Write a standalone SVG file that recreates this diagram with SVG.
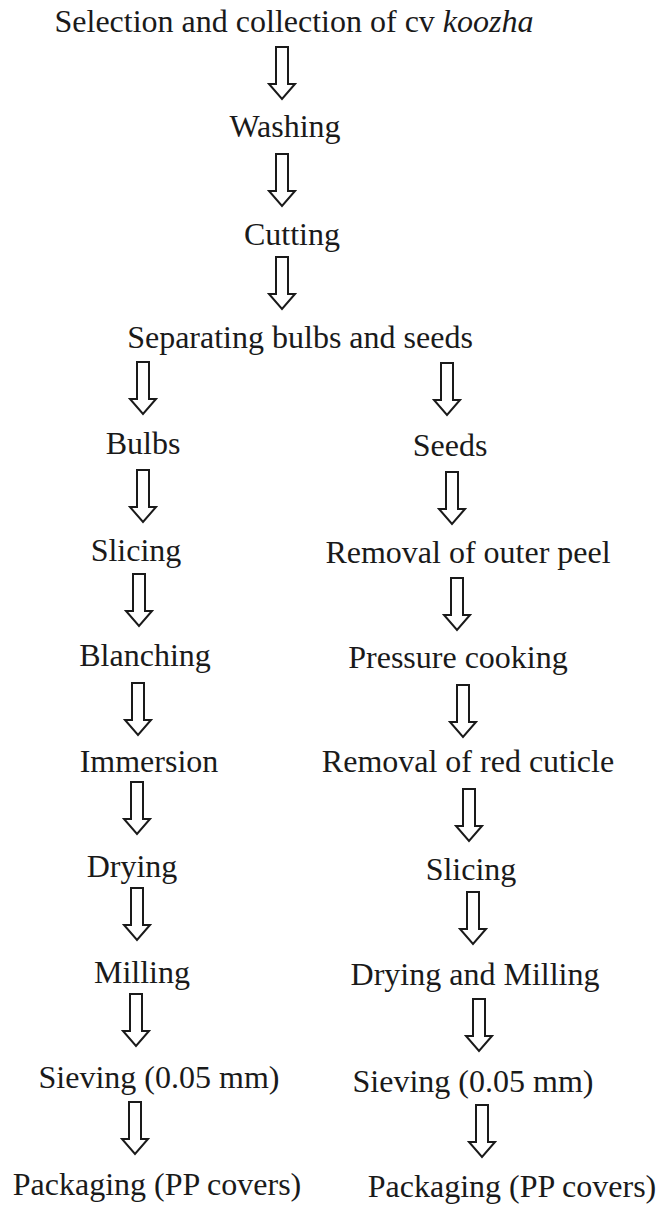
<svg xmlns="http://www.w3.org/2000/svg" width="660" height="1206" viewBox="0 0 660 1206">
<defs>
<style>
text{font-family:"Liberation Serif","Times New Roman",serif;font-size:32px;fill:#1a1a1a;text-anchor:middle}
.arr{fill:#fff;stroke:#1a1a1a;stroke-width:2;stroke-linejoin:miter}
</style>
<path id="a" class="arr" d="M-6,0 H6 V37 H13 L0,52 L-13,37 H-6 Z"/>
</defs>
<rect width="660" height="1206" fill="#fff"/>
<g id="connectors">
<use href="#a" x="282" y="47"/>
<use href="#a" x="282" y="154"/>
<use href="#a" x="282" y="257"/>
<use href="#a" x="143" y="362"/>
<use href="#a" x="447" y="363"/>
<use href="#a" x="143" y="470"/>
<use href="#a" x="452" y="472"/>
<use href="#a" x="139" y="574"/>
<use href="#a" x="457" y="578"/>
<use href="#a" x="138" y="683"/>
<use href="#a" x="463" y="685"/>
<use href="#a" x="137" y="782"/>
<use href="#a" x="469" y="789"/>
<use href="#a" x="137" y="888"/>
<use href="#a" x="473" y="892"/>
<use href="#a" x="136" y="994"/>
<use href="#a" x="479" y="999"/>
<use href="#a" x="135" y="1102"/>
<use href="#a" x="482" y="1105"/>
</g>
<g id="n1"><text x="294" y="32">Selection and collection of cv <tspan font-style="italic">koozha</tspan></text></g>
<g id="n2"><text x="285" y="137">Washing</text></g>
<g id="n3"><text x="292" y="245">Cutting</text></g>
<g id="n4"><text x="300" y="348">Separating bulbs and seeds</text></g>
<g id="n5"><text x="143" y="454">Bulbs</text></g>
<g id="n6"><text x="450" y="456">Seeds</text></g>
<g id="n7"><text x="136" y="561">Slicing</text></g>
<g id="n8"><text x="468" y="563">Removal of outer peel</text></g>
<g id="n9"><text x="145" y="666">Blanching</text></g>
<g id="n10"><text x="458" y="668">Pressure cooking</text></g>
<g id="n11"><text x="149" y="772">Immersion</text></g>
<g id="n12"><text x="468" y="772">Removal of red cuticle</text></g>
<g id="n13"><text x="132" y="877">Drying</text></g>
<g id="n14"><text x="471" y="880">Slicing</text></g>
<g id="n15"><text x="142" y="983">Milling</text></g>
<g id="n16"><text x="475" y="985">Drying and Milling</text></g>
<g id="n17"><text x="159" y="1088">Sieving (0.05 mm)</text></g>
<g id="n18"><text x="473" y="1092">Sieving (0.05 mm)</text></g>
<g id="n19"><text x="157" y="1195">Packaging (PP covers)</text></g>
<g id="n20"><text x="512" y="1197">Packaging (PP covers)</text></g>
</svg>
